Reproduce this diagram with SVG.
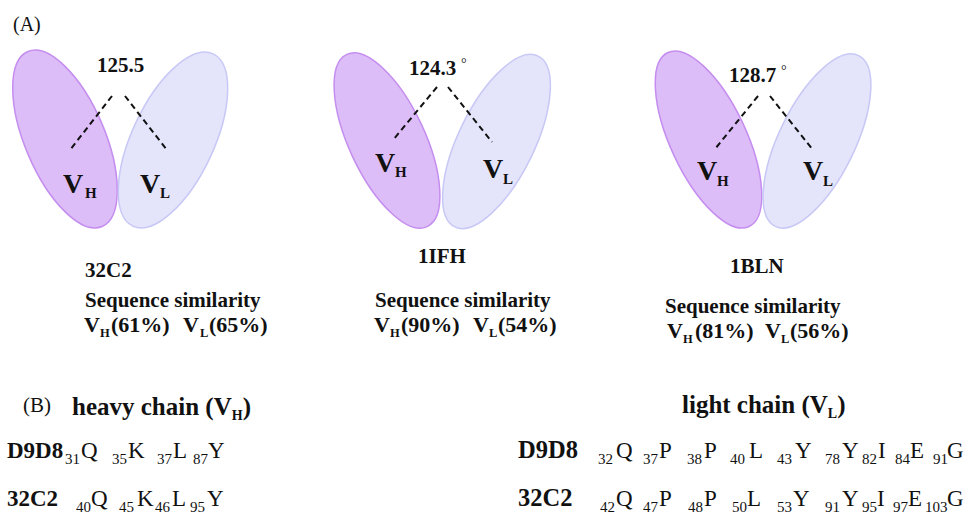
<svg xmlns="http://www.w3.org/2000/svg" width="968" height="515" viewBox="0 0 968 515">
<style>
text{font-family:"Liberation Serif","Times New Roman",serif;fill:#111}
.b{font-weight:bold}
.vh{fill:#ddbdf7;stroke:#c48def;stroke-width:1.5}
.vl{fill:#e4e4fb;stroke:#c8c8f6;stroke-width:1.5}
.dash{stroke:#111;stroke-width:2;stroke-dasharray:6 4;fill:none}
.big{font-size:28px;font-weight:bold}
.bsub{font-size:15px;font-weight:bold}
.ang{font-size:21px;font-weight:bold}
.deg{font-size:14px}
.lab{font-size:21px;font-weight:bold}
.sim{font-size:22px;font-weight:bold}
.ssub{font-size:12.5px;font-weight:bold}
.hsub{font-size:14px;font-weight:bold}
.res{font-size:23px}
.num{font-size:15px}
.name{font-size:23px;font-weight:bold}
.name2{font-size:24.5px;font-weight:bold}
.hdr{font-size:25px;font-weight:bold}
</style>
<rect width="968" height="515" fill="#fff"/>
<text x="13" y="31" style="font-size:20px">(A)</text>
<g id="panel1">
<g id="p1-vh"><ellipse class="vh" cx="65" cy="139" rx="40" ry="95" transform="rotate(-23 65 139)"/></g>
<g id="p1-vl"><ellipse class="vl" cx="173" cy="140" rx="41" ry="95" transform="rotate(25 173 140)"/></g>
<text class="ang" x="97" y="72">125.5</text>
<text x="63" y="193"><tspan class="big">V</tspan><tspan class="bsub" x="85" y="198">H</tspan></text>
<text x="140" y="193"><tspan class="big">V</tspan><tspan class="bsub" x="160" y="198">L</tspan></text>
<text class="lab" x="85" y="277">32C2</text>
<text class="lab" x="85" y="307">Sequence similarity</text>
<text x="84" y="332" class="sim">V<tspan class="ssub" x="100" y="337">H</tspan><tspan x="111" y="332">(61%)</tspan><tspan x="183" y="332">V</tspan><tspan class="ssub" x="200" y="337">L</tspan><tspan x="209" y="332">(65%)</tspan></text>
</g>
<g id="panel2">
<g id="p2-vh"><ellipse class="vh" cx="387" cy="140.5" rx="38" ry="95" transform="rotate(-25 387 140.5)"/></g>
<g id="p2-vl"><ellipse class="vl" cx="496.5" cy="141.5" rx="38" ry="95" transform="rotate(26 496.5 141.5)"/></g>
<text class="ang" x="409" y="75">124.3</text>
<text class="deg" x="461" y="68">°</text>
<text x="375" y="172"><tspan class="big">V</tspan><tspan class="bsub" x="395" y="177">H</tspan></text>
<text x="483" y="178"><tspan class="big">V</tspan><tspan class="bsub" x="503" y="184">L</tspan></text>
<text class="lab" x="418" y="263">1IFH</text>
<text class="lab" x="375" y="307">Sequence similarity</text>
<text x="374" y="332" class="sim">V<tspan class="ssub" x="390" y="337">H</tspan><tspan x="401" y="332">(90%)</tspan><tspan x="473" y="332">V</tspan><tspan class="ssub" x="489" y="337">L</tspan><tspan x="498" y="332">(54%)</tspan></text>
</g>
<g id="panel3">
<g id="p3-vh"><ellipse class="vh" cx="708.5" cy="139.5" rx="38" ry="96" transform="rotate(-25 708.5 139.5)"/></g>
<g id="p3-vl"><ellipse class="vl" cx="817" cy="141" rx="38" ry="95" transform="rotate(26 817 141)"/></g>
<text class="ang" x="729" y="82">128.7</text>
<text class="deg" x="781" y="75">°</text>
<text x="697" y="180"><tspan class="big">V</tspan><tspan class="bsub" x="717" y="186">H</tspan></text>
<text x="803" y="180"><tspan class="big">V</tspan><tspan class="bsub" x="823" y="186">L</tspan></text>
<text class="lab" x="730" y="273">1BLN</text>
<text class="lab" x="665" y="313">Sequence similarity</text>
<text x="667" y="338" class="sim">V<tspan class="ssub" x="683" y="343">H</tspan><tspan x="695" y="338">(81%)</tspan><tspan x="765" y="338">V</tspan><tspan class="ssub" x="781" y="343">L</tspan><tspan x="790" y="338">(56%)</tspan></text>
</g>
<g id="connectors">
<path class="dash" d="M112 96 L70 150 M125 96 L167 150"/>
<path class="dash" d="M437 87 L393 140 M448 87 L492 142"/>
<path class="dash" d="M758 96 L715 149 M770 96 L813 150"/>
</g>
<g id="panelB">
<text x="23" y="412" style="font-size:21px">(B)</text>
<text class="hdr" x="72" y="415">heavy chain (V<tspan class="hsub" y="420">H</tspan><tspan y="415">)</tspan></text>
<text class="hdr" x="682" y="413">light chain (V<tspan class="hsub" y="418">L</tspan><tspan y="413">)</tspan></text>
<g id="heavy-d9d8">
<text class="name" x="7" y="458">D9D8</text>
<text class="num" y="464"><tspan x="65">31</tspan><tspan x="112">35</tspan><tspan x="157">37</tspan><tspan x="193">87</tspan></text>
<text class="res" y="458"><tspan x="81">Q</tspan><tspan x="128">K</tspan><tspan x="173">L</tspan><tspan x="208">Y</tspan></text>
</g>
<g id="heavy-32c2">
<text class="name" x="7" y="506">32C2</text>
<text class="num" y="512"><tspan x="76">40</tspan><tspan x="119">45</tspan><tspan x="155">46</tspan><tspan x="190">95</tspan></text>
<text class="res" y="506"><tspan x="91">Q</tspan><tspan x="137">K</tspan><tspan x="172">L</tspan><tspan x="207">Y</tspan></text>
</g>
<g id="light-d9d8">
<text class="name2" x="518" y="458">D9D8</text>
<text class="num" y="464"><tspan x="598">32</tspan><tspan x="643">37</tspan><tspan x="687">38</tspan><tspan x="730">40</tspan><tspan x="777">43</tspan><tspan x="825">78</tspan><tspan x="862">82</tspan><tspan x="895">84</tspan><tspan x="933">91</tspan></text>
<text class="res" y="458"><tspan x="616">Q</tspan><tspan x="659">P</tspan><tspan x="704">P</tspan><tspan x="749">L</tspan><tspan x="795">Y</tspan><tspan x="842">Y</tspan><tspan x="878">I</tspan><tspan x="910">E</tspan><tspan x="947">G</tspan></text>
</g>
<g id="light-32c2">
<text class="name2" x="518" y="506">32C2</text>
<text class="num" y="512"><tspan x="600">42</tspan><tspan x="643">47</tspan><tspan x="688">48</tspan><tspan x="732">50</tspan><tspan x="777">53</tspan><tspan x="825">91</tspan><tspan x="862">95</tspan><tspan x="893">97</tspan><tspan x="925">103</tspan></text>
<text class="res" y="506"><tspan x="616">Q</tspan><tspan x="659">P</tspan><tspan x="704">P</tspan><tspan x="747">L</tspan><tspan x="793">Y</tspan><tspan x="842">Y</tspan><tspan x="877">I</tspan><tspan x="908">E</tspan><tspan x="947">G</tspan></text>
</g>
</g>
</svg>
